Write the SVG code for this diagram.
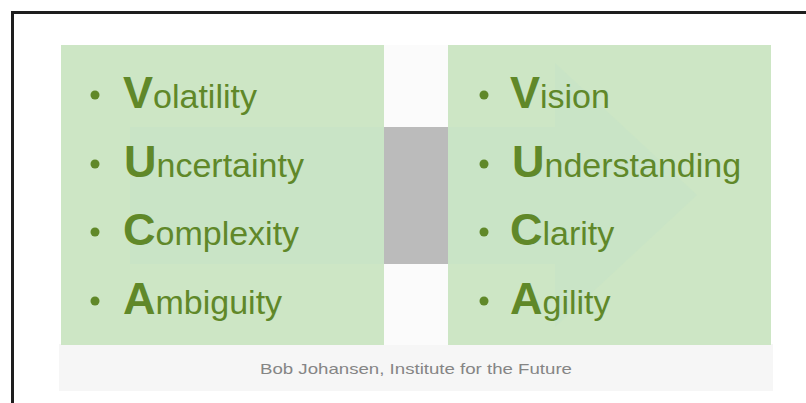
<svg xmlns="http://www.w3.org/2000/svg" width="806" height="403" viewBox="0 0 806 403">
  <style>
    .panel { fill: #cde6c5; }
    .item { font-family: "Liberation Sans", Arial, sans-serif; fill: #608829; font-size: 34px; }
    .cap { font-size: 45px; font-weight: bold; }
    .dot { fill: #608829; }
    .credit { font-family: "Liberation Sans", Arial, sans-serif; fill: #858585; font-size: 15px; }
  </style>
  <rect x="0" y="0" width="806" height="403" fill="#ffffff"/>
  <!-- frame (top and left edges only) -->
  <path d="M12.5 403 V12.5 H806" fill="none" stroke="#1e1e1e" stroke-width="3"/>

  <!-- footer strip -->
  <g id="footer">
    <rect x="59" y="344" width="714" height="47" fill="#f6f6f6"/>
    <text class="credit" x="416" y="374" text-anchor="middle" textLength="312" lengthAdjust="spacingAndGlyphs">Bob Johansen, Institute for the Future</text>
  </g>

  <!-- middle gap -->
  <rect x="384" y="45" width="64" height="300" fill="#fbfbfb"/>

  <!-- left panel -->
  <g id="left-panel">
    <rect class="panel" x="61" y="45" width="323" height="300"/>
  </g>
  <!-- right panel -->
  <g id="right-panel">
    <rect class="panel" x="448" y="45" width="323" height="300"/>
  </g>

  <!-- faint background arrow -->
  <polygon points="130,127 555,127 555,63 697,195 555,327 555,264 130,264" fill="#c3e3c9" opacity="0.38"/>

  <!-- grey centre block -->
  <g id="centre-block">
    <rect x="384" y="127" width="64" height="137" fill="#bbbbbb"/>
  </g>

  <g id="left-list">
    <circle class="dot" cx="95" cy="95" r="4.5"/>
    <text class="item" x="123" y="108"><tspan class="cap">V</tspan>olatility</text>
    <circle class="dot" cx="95" cy="164" r="4.5"/>
    <text class="item" x="124" y="177"><tspan class="cap">U</tspan>ncertainty</text>
    <circle class="dot" cx="95" cy="232" r="4.5"/>
    <text class="item" x="123" y="245"><tspan class="cap">C</tspan>omplexity</text>
    <circle class="dot" cx="95" cy="301" r="4.5"/>
    <text class="item" x="123" y="314"><tspan class="cap">A</tspan>mbiguity</text>
  </g>

  <g id="right-list">
    <circle class="dot" cx="484" cy="95" r="4.5"/>
    <text class="item" x="510" y="108"><tspan class="cap">V</tspan>ision</text>
    <circle class="dot" cx="484" cy="164" r="4.5"/>
    <text class="item" x="512" y="177"><tspan class="cap">U</tspan>nderstanding</text>
    <circle class="dot" cx="484" cy="232" r="4.5"/>
    <text class="item" x="510" y="245"><tspan class="cap">C</tspan>larity</text>
    <circle class="dot" cx="484" cy="301" r="4.5"/>
    <text class="item" x="510" y="314"><tspan class="cap">A</tspan>gility</text>
  </g>
</svg>
